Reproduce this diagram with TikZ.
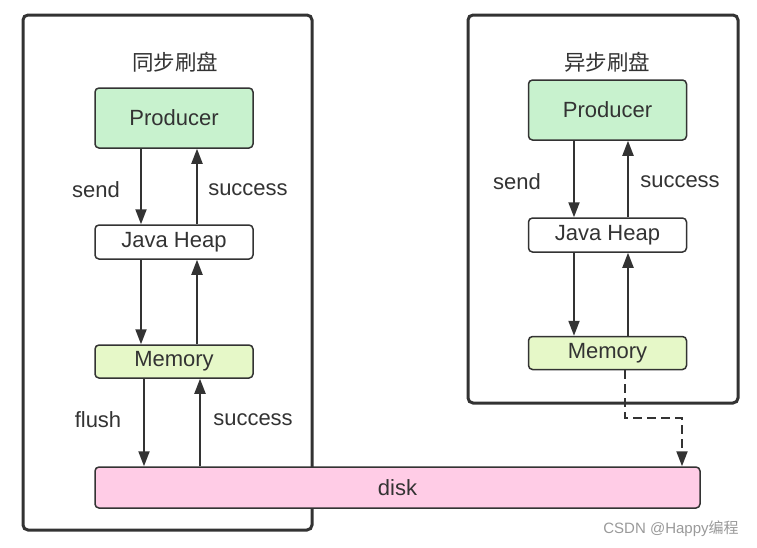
\documentclass[tikz,border=0pt]{standalone}
\usepackage{fontspec}
\setmainfont{Liberation Sans}
\newfontfamily\cjk{Noto Sans CJK SC}
\usetikzlibrary{arrows.meta,positioning,calc}
\definecolor{ink}{HTML}{333333}
\definecolor{prodfill}{HTML}{C8F2CE}
\definecolor{memfill}{HTML}{E6F8C8}
\definecolor{diskfill}{HTML}{FFCCE6}
\definecolor{wm}{HTML}{9A9A9A}
\tikzset{
  frame/.style={draw=ink, line width=3pt, rounded corners=5pt},
  box/.style={draw=ink, line width=1.5pt, rounded corners=4pt, text=ink,
    font=\fontsize{22}{26}\selectfont, inner sep=0pt, minimum width=158pt},
  prod/.style={box, fill=prodfill, minimum height=60pt},
  heap/.style={box, fill=white, minimum height=34pt},
  mem/.style={box, fill=memfill, minimum height=33pt},
  diskbox/.style={box, fill=diskfill, minimum height=41pt, minimum width=605pt},
  lbl/.style={text=ink, font=\fontsize{22}{26}\selectfont, inner sep=0pt},
  ttl/.style={text=ink, font=\cjk\fontsize{21.5}{25}\selectfont, inner sep=0pt},
  flow/.style={draw=ink, line width=2pt, -{Triangle[length=15pt,width=11pt]}},
  dflow/.style={flow, dash pattern=on 9pt off 5pt},
}
\begin{document}
\begin{tikzpicture}[x=1pt,y=-1pt]
\useasboundingbox (0,0) rectangle (757,547);
\fill[white] (0,0) rectangle (757,547);
% frames
\draw[frame] (23,15) rectangle (312,530);
\draw[frame] (468,15) rectangle (738,403);
% titles
\node[ttl] (t1) at (175,62) {同步刷盘};
\node[ttl] (t2) at (607,62) {异步刷盘};
% left column
\node[prod] (p1) at (174,118) {Producer};
\node[heap] (j1) at (174,242) {Java Heap};
\node[mem]  (m1) at (174,361.5) {Memory};
% right column
\node[prod] (p2) at (607.5,110) {Producer};
\node[heap] (j2) at (607.5,235) {Java Heap};
\node[mem]  (m2) at (607.5,353) {Memory};
% disk
\node[diskbox] (disk) at (397.5,487.5) {disk};
% left arrows
\draw[flow] ([xshift=-33pt]p1.south) -- ([xshift=-33pt]j1.north);
\draw[flow] ([xshift=23pt]j1.north) -- ([xshift=23pt]p1.south);
\draw[flow] ([xshift=-33pt]j1.south) -- ([xshift=-33pt]m1.north);
\draw[flow] ([xshift=23pt]m1.north) -- ([xshift=23pt]j1.south);
\draw[flow] ([xshift=-30pt]m1.south) -- ([xshift=-30pt]m1.south |- disk.north);
\draw[flow] ([xshift=26pt]m1.south |- disk.north) -- ([xshift=26pt]m1.south);
% right arrows
\draw[flow] ([xshift=-33.5pt]p2.south) -- ([xshift=-33.5pt]j2.north);
\draw[flow] ([xshift=20.5pt]j2.north) -- ([xshift=20.5pt]p2.south);
\draw[flow] ([xshift=-33.5pt]j2.south) -- ([xshift=-33.5pt]m2.north);
\draw[flow] ([xshift=20.5pt]m2.north) -- ([xshift=20.5pt]j2.south);
% dashed async flush
\coordinate (bend) at (682,418);
\draw[dflow] ([xshift=17.5pt]m2.south) |- (bend) -- (bend |- disk.north);
% labels
\node[lbl] (l1) at (96,190) {send};
\node[lbl] (l2) at (248,190) {success};
\node[lbl] (l3) at (98,420) {flush};
\node[lbl] (l4) at (253,420) {success};
\node[lbl] (l5) at (517,182) {send};
\node[lbl] (l6) at (680,182) {success};
% watermark
\node[text=wm, font=\fontsize{15}{18}\selectfont, inner sep=0pt] (wm) at (671,529) {CSDN @Happy{\cjk 编程}};
\end{tikzpicture}
\end{document}
